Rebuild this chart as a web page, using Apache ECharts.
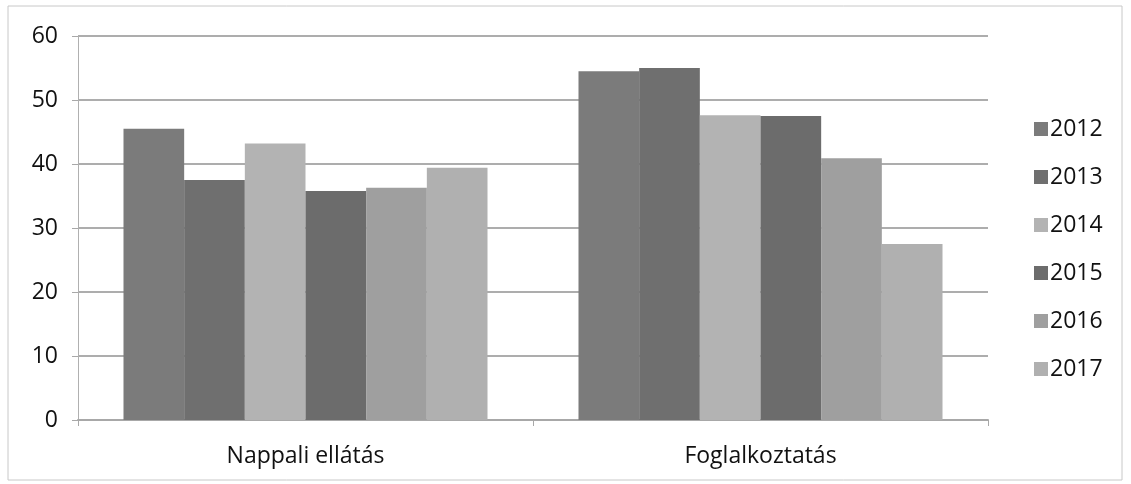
<!DOCTYPE html>
<html>
<head>
<meta charset="utf-8">
<script src="https://cdn.jsdelivr.net/npm/echarts@6/dist/echarts.min.js"></script>
<style>
html,body{margin:0;padding:0;background:#fff;}
#c{width:1131px;height:484px;}
</style>
</head>
<body>
<div id="c"></div>
<script>
var categories = ['Nappali ellátás', 'Foglalkoztatás'];
var years = ['2012', '2013', '2014', '2015', '2016', '2017'];
var v2012 = [45.5, 54.5];
var v2013 = [37.5, 55.0];
var v2014 = [43.2, 47.6];
var v2015 = [35.8, 47.5];
var v2016 = [36.3, 40.9];
var v2017 = [39.4, 27.5];
var yTicks = [0, 10, 20, 30, 40, 50, 60];

var values = [v2012, v2013, v2014, v2015, v2016, v2017];
var colors = ['#7b7b7b', '#6f6f6f', '#b3b3b3', '#6c6c6c', '#9f9f9f', '#b0b0b0'];
var font = 'Open Sans';

var chart = echarts.init(document.getElementById('c'));
chart.setOption({
  animation: false,
  backgroundColor: '#fff',
  textStyle: { fontFamily: font },
  graphic: [{
    type: 'rect',
    shape: { x: 8, y: 6, width: 1114, height: 474 },
    style: { fill: 'none', stroke: '#c8c8c8', lineWidth: 1 },
    silent: true
  }],
  grid: { left: 78, right: 143, top: 36, bottom: 64, containLabel: false },
  legend: {
    orient: 'vertical',
    left: 1029,
    top: 112,
    itemWidth: 14,
    itemHeight: 14,
    itemGap: 24,
    icon: 'rect',
    data: years,
    textStyle: { fontSize: 23, lineHeight: 24, color: '#111', fontFamily: font, padding: [0, 0, 0, -3] }
  },
  xAxis: {
    type: 'category',
    data: categories,
    axisLine: { show: true, lineStyle: { color: '#a8a8a8', width: 2 } },
    axisTick: { show: true, length: 6, lineStyle: { color: '#a8a8a8' } },
    axisLabel: { fontSize: 23, color: '#111', margin: 25, fontFamily: font },
    splitLine: { show: false }
  },
  yAxis: {
    type: 'value',
    min: yTicks[0],
    max: yTicks[yTicks.length - 1],
    interval: 10,
    axisLine: { show: true, lineStyle: { color: '#b0b0b0', width: 1 } },
    axisTick: { show: true, length: 6, lineStyle: { color: '#a8a8a8' } },
    axisLabel: { fontSize: 23, color: '#111', margin: 20, fontFamily: font },
    splitLine: { show: true, lineStyle: { color: '#adadad', width: 2 } }
  },
  series: years.map(function (y, i) {
    return {
      name: y,
      type: 'bar',
      data: values[i],
      barGap: '0%',
      barCategoryGap: '20%',
      itemStyle: { color: colors[i] }
    };
  })
});
</script>
</body>
</html>
